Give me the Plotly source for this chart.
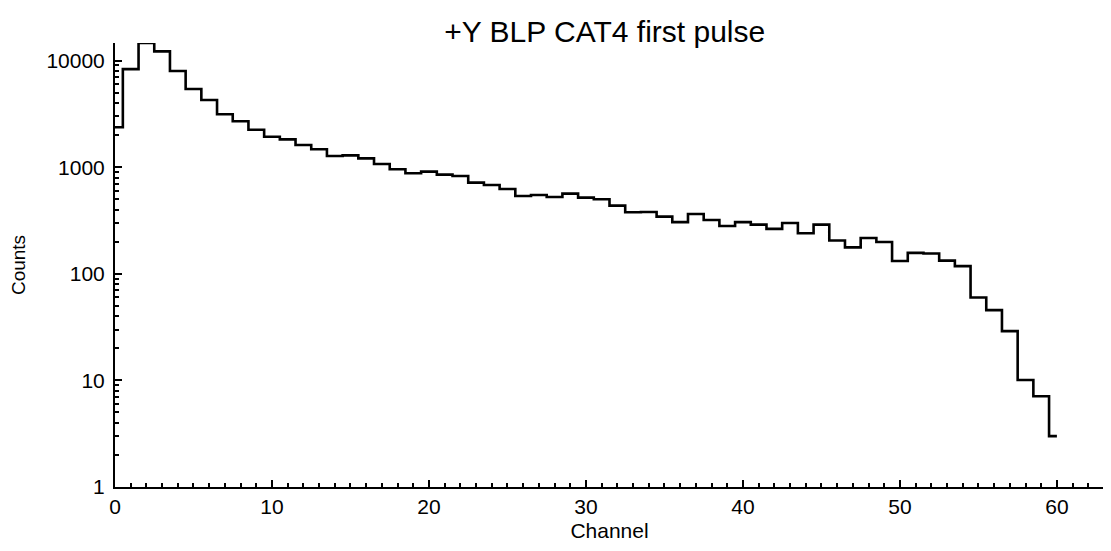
import plotly.graph_objects as go

channels = list(range(0, 61))
counts = [2370, 8320, 14600, 12200, 7980, 5410, 4265, 3133, 2694, 2246,
          1930, 1825, 1614, 1472, 1274, 1290, 1211, 1071, 955, 877,
          908, 851, 827, 716, 681, 625, 537, 549, 526, 565,
          518, 500, 436, 378, 380, 344, 305, 364, 320, 281,
          305, 289, 264, 300, 240, 289, 205, 177, 217, 199,
          132, 157, 155, 133, 118, 60, 45.6, 29, 10.1, 7.1,
          3.0]

y_tickvals = [1, 10, 100, 1000, 10000]
y_ticktext = ["1", "10", "100", "1000", "10000"]
x_tickvals = [0, 10, 20, 30, 40, 50, 60]

font_family = "Liberation Sans, Arial, sans-serif"

fig = go.Figure()
fig.add_trace(go.Scatter(
    x=channels, y=counts, mode="lines",
    line=dict(shape="hvh", color="black", width=2.6),
    showlegend=False, hoverinfo="x+y",
))

fig.update_layout(
    width=1103, height=543,
    margin=dict(l=107, r=7, t=35, b=64),
    paper_bgcolor="white", plot_bgcolor="white",
    font=dict(family=font_family, size=21, color="black"),
    title=dict(text="+Y BLP CAT4 first pulse", x=0.541, xanchor="center",
               y=0.956, yanchor="middle", font=dict(size=30, color="black")),
)

fig.update_xaxes(
    range=[0, 63], showgrid=False, zeroline=False,
    showline=True, linecolor="black", linewidth=2,
    ticks="inside", ticklen=7, tickwidth=2, tickcolor="black",
    tickvals=x_tickvals,
    minor=dict(dtick=1, ticks="inside", ticklen=4, tickwidth=2, tickcolor="black", showgrid=False),
    title=dict(text="Channel", font=dict(size=21), standoff=6),
    tickfont=dict(size=21),
)
fig.update_yaxes(
    type="log", range=[0, 4.165], showgrid=False, zeroline=False,
    showline=True, linecolor="black", linewidth=2,
    ticks="inside", ticklen=7, tickwidth=2, tickcolor="black",
    tickvals=y_tickvals, ticktext=y_ticktext,
    minor=dict(dtick="D1", ticks="inside", ticklen=4, tickwidth=2, tickcolor="black", showgrid=False),
    title=dict(text="Counts", font=dict(size=19), standoff=16),
    tickfont=dict(size=21), ticklabelstandoff=4,
)

fig.write_html("out.html")
